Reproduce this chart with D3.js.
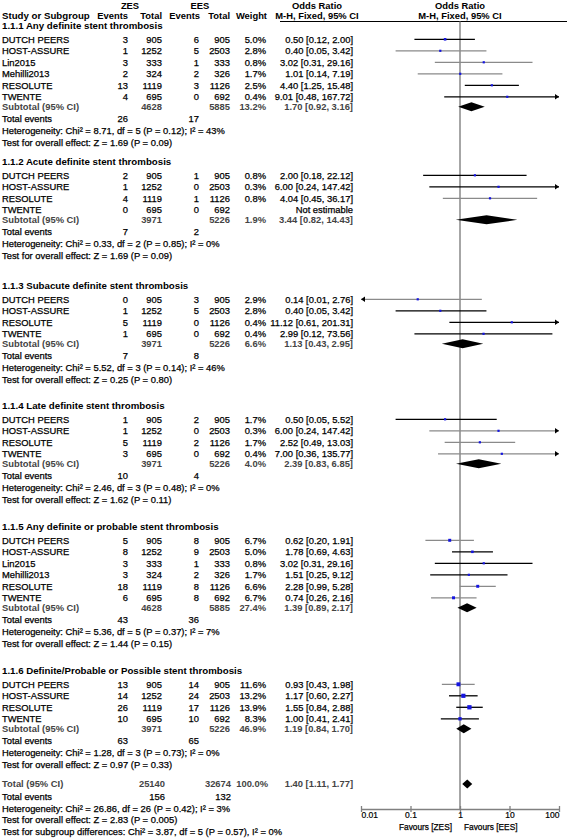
<!DOCTYPE html>
<html><head><meta charset="utf-8">
<script src="https://cdn.jsdelivr.net/npm/d3@7"></script>
<style>body{margin:0;background:#fff}svg{display:block}text{font-family:"Liberation Sans",Arial,sans-serif;}</style>
</head><body><svg id="c" width="567" height="839"></svg>
<script>
// ---------- DATA ----------
const subgroupTitles = [
  "1.1.1 Any definite stent thrombosis",
  "1.1.2 Acute definite stent thrombosis",
  "1.1.3 Subacute definite stent thrombosis",
  "1.1.4 Late definite stent thrombosis",
  "1.1.5 Any definite or probable stent thrombosis",
  "1.1.6 Definite/Probable or Possible stent thrombosis"
];
const studyGroup = [0,0,0,0,0,0, 1,1,1,1, 2,2,2,2, 3,3,3,3, 4,4,4,4,4,4, 5,5,5,5];
const studyNames = [
  "DUTCH PEERS","HOST-ASSURE","Lin2015","Mehilli2013","RESOLUTE","TWENTE",
  "DUTCH PEERS","HOST-ASSURE","RESOLUTE","TWENTE",
  "DUTCH PEERS","HOST-ASSURE","RESOLUTE","TWENTE",
  "DUTCH PEERS","HOST-ASSURE","RESOLUTE","TWENTE",
  "DUTCH PEERS","HOST-ASSURE","Lin2015","Mehilli2013","RESOLUTE","TWENTE",
  "DUTCH PEERS","HOST-ASSURE","RESOLUTE","TWENTE"
];
const zesEvents = [3,1,3,2,13,4, 2,1,4,0, 0,1,5,1, 1,1,5,3, 5,8,3,3,18,6, 13,14,26,10];
const zesTotal  = [905,1252,333,324,1119,695, 905,1252,1119,695, 905,1252,1119,695, 905,1252,1119,695, 905,1252,333,324,1119,695, 905,1252,1119,695];
const eesEvents = [6,5,1,2,3,0, 1,0,1,0, 3,5,0,0, 2,0,2,0, 8,9,1,2,8,8, 14,24,17,10];
const eesTotal  = [905,2503,333,326,1126,692, 905,2503,1126,692, 905,2503,1126,692, 905,2503,1126,692, 905,2503,333,326,1126,692, 905,2503,1126,692];
const studyWeight = [5.0,2.8,0.8,1.7,2.5,0.4, 0.8,0.3,0.8,null, 2.9,2.8,0.4,0.4, 1.7,0.3,1.7,0.4, 6.7,5.0,0.8,1.7,6.6,6.7, 11.6,13.2,13.9,8.3];
const studyOR   = [0.50,0.40,3.02,1.01,4.40,9.01, 2.00,6.00,4.04,null, 0.14,0.40,11.12,2.99, 0.50,6.00,2.52,7.00, 0.62,1.78,3.02,1.51,2.28,0.74, 0.93,1.17,1.55,1.00];
const studyLow  = [0.12,0.05,0.31,0.14,1.25,0.48, 0.18,0.24,0.45,null, 0.01,0.05,0.61,0.12, 0.05,0.24,0.49,0.36, 0.20,0.69,0.31,0.25,0.99,0.26, 0.43,0.60,0.84,0.41];
const studyHigh = [2.00,3.42,29.16,7.19,15.48,167.72, 22.12,147.42,36.17,null, 2.76,3.42,201.31,73.56, 5.52,147.42,13.03,135.77, 1.91,4.63,29.16,9.12,5.28,2.16, 1.98,2.27,2.88,2.41];

const subTotalZES  = [4628,3971,3971,3971,4628,3971];
const subTotalEES  = [5885,5226,5226,5226,5885,5226];
const subWeight    = [13.2,1.9,6.6,4.0,27.4,46.9];
const subOR        = [1.70,3.44,1.13,2.39,1.39,1.19];
const subLow       = [0.92,0.82,0.43,0.83,0.89,0.84];
const subHigh      = [3.16,14.43,2.95,6.85,2.17,1.70];
const subEventsZES = [26,7,7,10,43,63];
const subEventsEES = [17,2,8,4,36,65];
const hetChi = ["8.71","0.33","5.52","2.46","5.36","1.28"];
const hetDf  = [5,2,3,3,5,3];
const hetP   = ["0.12","0.85","0.14","0.48","0.37","0.73"];
const hetI2  = [43,0,46,0,7,0];
const testZ  = ["1.69","1.69","0.25","1.62","1.44","0.97"];
const testP  = ["0.09","0.09","0.80","0.11","0.15","0.33"];

const overallTotals = [25140, 32674];
const overallEvents = [156, 132];
const overallWeight = "100.0";
const overallEffect = [1.40, 1.11, 1.77];
const overallHet = {chi:"26.86", df:26, p:"0.42", i2:3};
const overallTest = {z:"2.83", p:"0.005"};
const subgroupDiff = {chi:"3.87", df:5, p:"0.57", i2:0};
const axisTicks = [0.01, 0.1, 1, 10, 100];
const axisLabels = ["0.01","0.1","1","10","100"];

// ---------- LAYOUT ----------
const sectionTop = [26, 162, 286, 406, 527, 671];
const totalTop = 784;
const col = {name:2, zesEv:128, zesTot:162, eesEv:199, eesTot:230, w:266, or:353};
const FS = 9.4, FB = 9.4;
const svg = d3.select("#c");
const x = d3.scaleLog().domain([0.01,100]).range([361,559]);
const axisY = 809;
const grayLines = new Set([1,2,3, 8, 10, 15,16,17, 18,22,23, 24]);

function txt(xp, y, s, anchor, opts) {
  opts = opts || {};
  const fill = opts.fill || "#000";
  const t = svg.append("text").attr("x",xp).attr("y",y).attr("dy","0.35em")
    .attr("text-anchor",anchor||"start").attr("font-size",opts.size||(opts.bold?FB:FS))
    .attr("font-weight",opts.bold?"bold":"normal").attr("fill",fill).text(s);
  if (!opts.bold) t.attr("stroke",fill).attr("stroke-width",0.25);
}
const f2 = d => d.toFixed(2);
const orText = (o,l,h) => `${f2(o)} [${f2(l)}, ${f2(h)}]`;

// header
txt(130, 5.5, "ZES", "middle", {bold:true});
txt(200, 5.5, "EES", "middle", {bold:true});
txt(317, 5.5, "Odds Ratio", "middle", {bold:true});
txt(x(1), 5.5, "Odds Ratio", "middle", {bold:true});
txt(col.name, 15.5, "Study or Subgroup", "start", {bold:true, size:9.7});
txt(128, 15.5, "Events", "end", {bold:true});
txt(162, 15.5, "Total", "end", {bold:true});
txt(200, 15.5, "Events", "end", {bold:true});
txt(230, 15.5, "Total", "end", {bold:true});
txt(267, 15.5, "Weight", "end", {bold:true});
txt(317, 15.5, "M-H, Fixed, 95% CI", "middle", {bold:true});
txt(x(1), 15.5, "M-H, Fixed, 95% CI", "middle", {bold:true});
svg.append("line").attr("x1",280).attr("x2",567).attr("y1",21.5).attr("y2",21.5).attr("stroke","#000").attr("stroke-width",1);

// null line
svg.append("line").attr("x1",x(1)).attr("x2",x(1)).attr("y1",21.5).attr("y2",axisY)
  .attr("stroke","#888").attr("stroke-width",1.5);

function diamond(y, o, l, h) {
  svg.append("polygon").attr("points",[[x(l),y],[x(o),y-4.5],[x(h),y],[x(o),y+4.5]].map(p=>p.join(",")).join(" "))
    .attr("fill","#000");
}
function arrow(xp, y, dir) {
  svg.append("polygon").attr("points",`${xp},${y} ${xp-4*dir},${y-2.8} ${xp-4*dir},${y+2.8}`).attr("fill","#000");
}

const subGray = "#444";
subgroupTitles.forEach((title, g) => {
  const y = sectionTop[g];
  txt(col.name, y, title, "start", {bold:true, size:9.7});
  const idx = studyGroup.map((s,i)=>s===g?i:-1).filter(i=>i>=0);
  const sy = y + 13.3;
  idx.forEach((i, k) => {
    const ry = sy + k*11.5;
    txt(col.name, ry, studyNames[i]);
    txt(col.zesEv, ry, zesEvents[i], "end");
    txt(col.zesTot, ry, zesTotal[i], "end");
    txt(col.eesEv, ry, eesEvents[i], "end");
    txt(col.eesTot, ry, eesTotal[i], "end");
    if (studyOR[i] == null) {
      txt(col.or, ry, "Not estimable", "end");
      return;
    }
    txt(col.w, ry, studyWeight[i].toFixed(1) + "%", "end");
    txt(col.or, ry, orText(studyOR[i], studyLow[i], studyHigh[i]), "end");
    const lo = Math.max(studyLow[i], 0.01), hi = Math.min(studyHigh[i], 100);
    svg.append("line").attr("x1",x(lo)).attr("x2",x(hi)).attr("y1",ry).attr("y2",ry)
      .attr("stroke", grayLines.has(i) ? "#8a8a8a" : "#000").attr("stroke-width",1.3);
    if (studyHigh[i] > 100) arrow(x(100), ry, 1);
    if (studyLow[i] <= 0.01) arrow(x(0.01), ry, -1);
    const sz = Math.max(2.2, 1.15*Math.sqrt(studyWeight[i]));
    svg.append("rect").attr("x",x(studyOR[i])-sz/2).attr("y",ry-sz/2).attr("width",sz).attr("height",sz).attr("fill","#1515e0");
  });
  const last = sy + (idx.length-1)*11.5;
  const suby = last + 10;
  txt(col.name, suby, "Subtotal (95% CI)", "start", {bold:true, fill:subGray});
  txt(col.zesTot, suby, subTotalZES[g], "end", {bold:true, fill:subGray});
  txt(col.eesTot, suby, subTotalEES[g], "end", {bold:true, fill:subGray});
  txt(col.w, suby, subWeight[g].toFixed(1) + "%", "end", {bold:true, fill:subGray});
  txt(col.or, suby, orText(subOR[g], subLow[g], subHigh[g]), "end", {bold:true, fill:subGray});
  diamond(suby, subOR[g], subLow[g], subHigh[g]);
  const ty = suby + 12.3;
  txt(col.name, ty, "Total events");
  txt(col.zesEv, ty, subEventsZES[g], "end");
  txt(col.eesEv, ty, subEventsEES[g], "end");
  txt(col.name, ty + 11.8, `Heterogeneity: Chi² = ${hetChi[g]}, df = ${hetDf[g]} (P = ${hetP[g]}); I² = ${hetI2[g]}%`);
  txt(col.name, ty + 23.6, `Test for overall effect: Z = ${testZ[g]} (P = ${testP[g]})`);
});

// overall
{
  const y = totalTop;
  txt(col.name, y, "Total (95% CI)", "start", {bold:true, fill:subGray});
  txt(col.zesTot + 3, y, overallTotals[0], "end", {bold:true, fill:subGray});
  txt(col.eesTot + 1, y, overallTotals[1], "end", {bold:true, fill:subGray});
  txt(col.w + 2, y, overallWeight + "%", "end", {bold:true, fill:subGray});
  txt(col.or, y, orText(...overallEffect), "end", {bold:true, fill:subGray});
  diamond(y, overallEffect[0], overallEffect[1], overallEffect[2]);
  txt(col.name, y+12.8, "Total events");
  txt(col.zesTot + 3, y+12.8, overallEvents[0], "end");
  txt(col.eesTot + 1, y+12.8, overallEvents[1], "end");
  txt(col.name, y+24.5, `Heterogeneity: Chi² = ${overallHet.chi}, df = ${overallHet.df} (P = ${overallHet.p}); I² = ${overallHet.i2}%`);
  txt(col.name, y+36.2, `Test for overall effect: Z = ${overallTest.z} (P = ${overallTest.p})`);
  txt(col.name, y+47.9, `Test for subgroup differences: Chi² = ${subgroupDiff.chi}, df = ${subgroupDiff.df} (P = ${subgroupDiff.p}), I² = ${subgroupDiff.i2}%`);
}

// axis
const ax = d3.axisBottom(x).tickValues(axisTicks).tickFormat((d,i)=>axisLabels[i]).tickSize(3).tickSizeOuter(0);
const axg = svg.append("g").attr("transform",`translate(0,${axisY})`).call(ax);
axg.select(".domain").attr("stroke","#808080").attr("stroke-width",1.5);
axg.selectAll(".tick line").attr("y1",-3).attr("y2",3).attr("stroke","#808080").attr("stroke-width",1.3);
axg.selectAll(".tick text").attr("y",3).attr("dy","0.71em").attr("font-size",8.5)
  .attr("font-family",'"Liberation Sans",Arial,sans-serif').attr("fill","#000")
  .attr("stroke","#000").attr("stroke-width",0.2)
  .attr("text-anchor",(d,i)=> i===0?"start":(i===axisTicks.length-1?"end":"middle"));
txt(452, 827, "Favours [ZES]", "end", {size:8.3});
txt(464, 827, "Favours [EES]", "start", {size:8.3});
</script></body></html>
